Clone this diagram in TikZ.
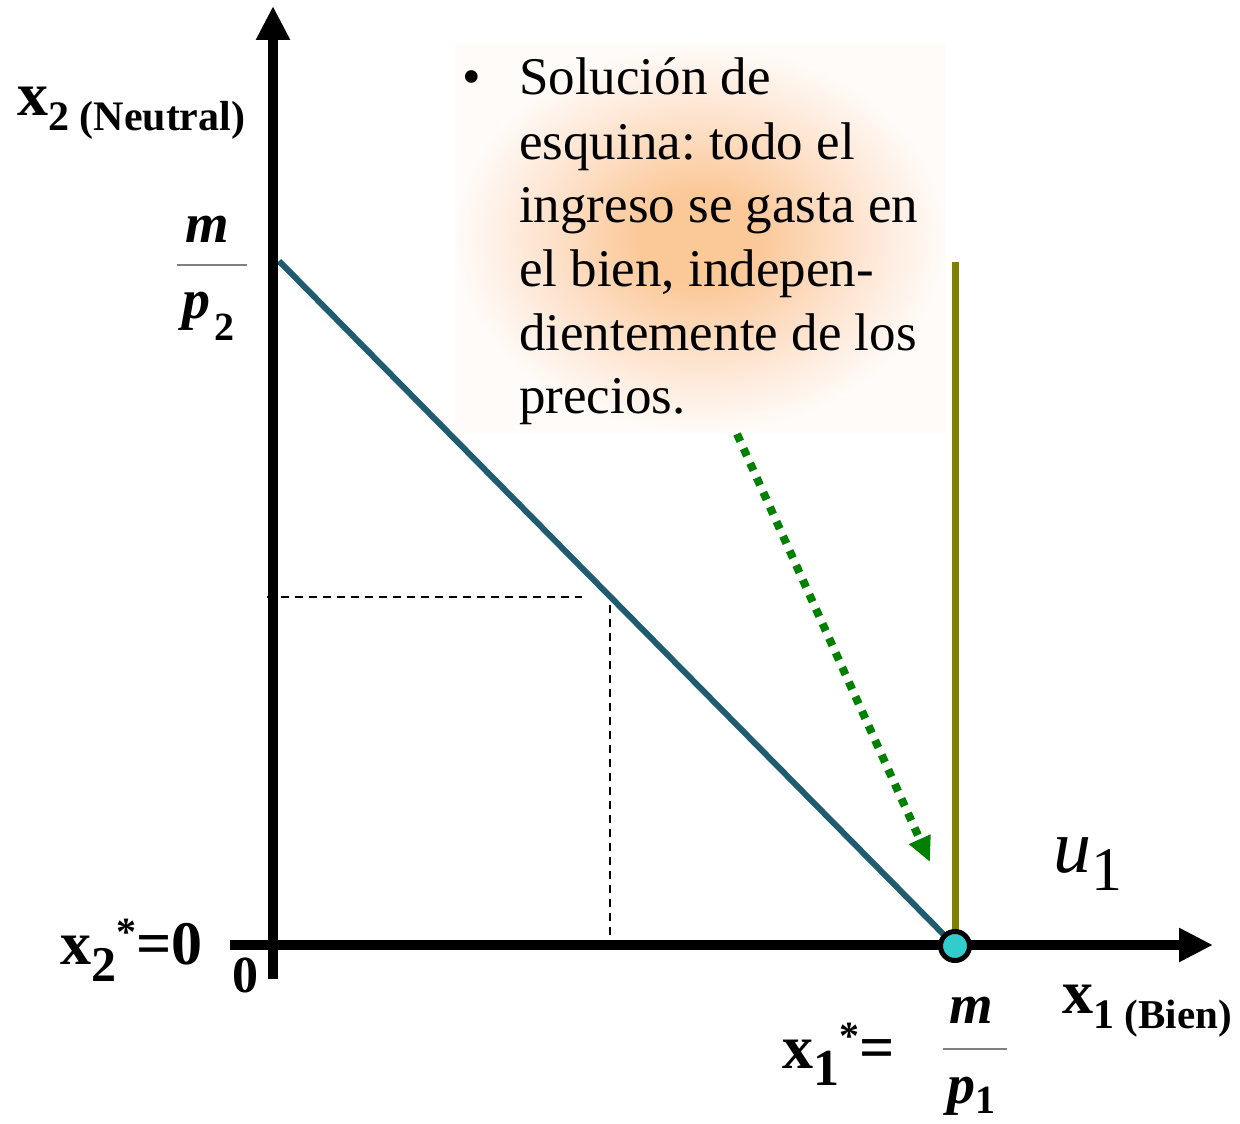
\documentclass[tikz,border=0pt]{standalone}
\usepackage{fontspec}
\setmainfont{Liberation Serif}
\usetikzlibrary{arrows.meta}
\frenchspacing
\definecolor{budget}{RGB}{32,92,112}
\definecolor{olivec}{RGB}{128,128,0}
\definecolor{dotc}{RGB}{0,128,0}
\definecolor{cyanc}{RGB}{51,204,204}
\definecolor{gpk}{RGB}{251,200,152}
\definecolor{gmid}{RGB}{253,222,196}
\definecolor{glt}{RGB}{254,238,226}
\definecolor{gedge}{RGB}{255,251,248}
\pgfdeclareradialshading{glow}{\pgfpoint{0bp}{0bp}}{color(0bp)=(gpk); color(6bp)=(gpk); color(14bp)=(gmid); color(20bp)=(glt); color(25bp)=(gedge); color(50bp)=(gedge)}
\newcommand\fsz[1]{\fontsize{#1}{#1}\selectfont}
\begin{document}
\begin{tikzpicture}[x=1pt,y=-1pt,
  axis/.style={line width=10pt,-{Triangle[length=34pt,width=32pt]}},
  guide/.style={line width=1.8pt,dash pattern=on 8pt off 6pt},
  lab/.style={inner sep=0pt,anchor=base west},
  clab/.style={inner sep=0pt,anchor=base},
  txt/.style={inner sep=0pt,anchor=base west,font=\fsz{53}},
  fracline/.style={draw=gray,line width=1.5pt}]
\useasboundingbox (0,0) rectangle (1240,1124);
% glow behind text
\shade[shading=glow] (455,45) rectangle (945,432);
% coordinates
\coordinate (O) at (273,945);
\coordinate (Ytop) at (273,6);
\coordinate (Ybot) at (273,979);
\coordinate (Xl) at (230,945);
\coordinate (Xr) at (1213,945);
\coordinate (B) at (279,261);
\coordinate (Eq) at (955,946);
\coordinate (U) at (955,262);
\coordinate (H1) at (267,597);
\coordinate (H2) at (582,597);
\coordinate (V1) at (610,605);
\coordinate (V2) at (610,940);
\coordinate (A1) at (737,434);
\coordinate (A2) at (930,862);
% dashed guides
\draw[guide] (H1) -- (H2);
\draw[guide] (V1) -- (V2);
% budget line and indifference
\draw[budget,line width=6pt] (B) -- (Eq);
\draw[olivec,line width=7pt] (U) -- (Eq);
% axes
\draw[axis] (Ybot) -- (Ytop);
\draw[axis] (Xl) -- (Xr);
% equilibrium point
\node[circle,fill=cyanc,draw=black,line width=5pt,minimum size=29pt,inner sep=0pt] (E) at (Eq) {};
% dotted arrow
\draw[dotc,line width=8pt,dash pattern=on 8pt off 8pt,-{Triangle[length=25pt,width=22pt]}] (A1) -- (A2);
% text block
\node[inner sep=0pt,anchor=base,font=\fsz{53}] (bul) at (472,95) {•};
\node[txt] (l1) at (519,95) {Solución de};
\node[txt] (l2) at (519,159) {esquina: todo el};
\node[txt] (l3) at (519,222) {ingreso se gasta en};
\node[txt] (l4) at (519,286) {el bien, indepen-};
\node[txt] (l5) at (519,350) {dientemente de los};
\node[txt] (l6) at (519,413) {precios.};
% axis labels
\node[lab] (x2lab) at (17,115) {\bfseries\fsz{62}x\raisebox{-15pt}{\fsz{42}2 \fsz{42}(Neutral)}};
\node[lab] (x1lab) at (1062,1013) {\bfseries\fsz{62}x\raisebox{-15pt}{\fsz{42}1 \fsz{41}(Bien)}};
% m/p2
\node[clab] (m2) at (207,242) {\bfseries\itshape\fsz{56}m};
\coordinate (F2a) at (177,265);
\coordinate (F2b) at (247,265);
\draw[fracline] (F2a) -- (F2b);
\node[lab] (p2) at (182,318) {\bfseries\fsz{56}\itshape p\upshape\hspace{4pt}\raisebox{-22pt}{\fsz{40}2}};
% m/p1
\node[clab] (m1) at (971,1023) {\bfseries\itshape\fsz{56}m};
\coordinate (F1a) at (943,1049);
\coordinate (F1b) at (1007,1049);
\draw[fracline] (F1a) -- (F1b);
\node[lab] (p1) at (947,1103) {\bfseries\fsz{56}\itshape p\upshape\raisebox{-10pt}{\fsz{40}1}};
% x2* = 0
\node[lab] (x2s) at (60,964) {\bfseries\fsz{62}x\raisebox{-17pt}{\fsz{50}2}\raisebox{19pt}{\fsz{40}*}=0};
% origin
\node[clab] (zero) at (245,992) {\bfseries\fsz{52}0};
% x1* =
\node[lab] (x1s) at (782,1068) {\bfseries\fsz{62}x\raisebox{-17pt}{\fsz{52}1}\raisebox{19pt}{\fsz{40}*}=};
% u1
\node[lab] (u1) at (1053,872) {\itshape\fsz{76}u\upshape\raisebox{-18pt}{\fsz{62}1}};
\end{tikzpicture}
\end{document}
